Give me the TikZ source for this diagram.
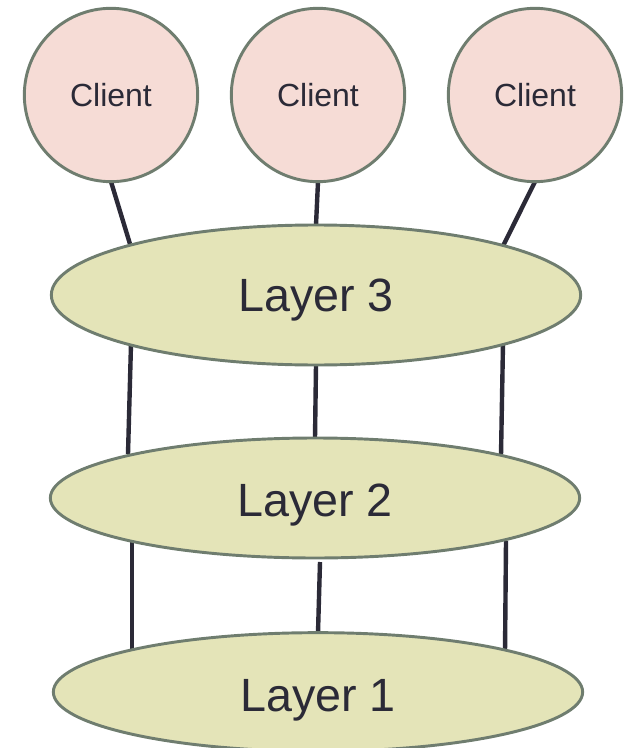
\documentclass[tikz,border=0pt]{standalone}
\usepackage{fontspec}
\setmainfont{Liberation Sans}
\usetikzlibrary{shapes.geometric,calc}
\definecolor{cfill}{HTML}{F6DCD6}
\definecolor{efill}{HTML}{E4E4B8}
\definecolor{bord}{HTML}{6F7D6F}
\definecolor{ink}{HTML}{2B2A37}
\pgfdeclarelayer{bg}
\pgfsetlayers{bg,main}
\tikzset{
  client/.style={circle, draw=bord, line width=2.2pt, fill=cfill, minimum size=130pt, inner sep=0pt, outer sep=0pt, text=ink, font=\fontsize{24}{28}\selectfont},
  layer/.style={ellipse, draw=bord, line width=2.2pt, fill=efill, minimum width=397pt, inner sep=0pt, outer sep=0pt, text depth=0pt, text=ink, font=\fontsize{35}{40}\selectfont},
  conn/.style={draw=ink, line width=3.3pt}
}
\begin{document}
\begin{tikzpicture}[x=0.75pt,y=-0.75pt]
\useasboundingbox (0,0) rectangle (627,748);
\node[client] (C1) at (111,95) {Client};
\node[client] (C2) at (318,95) {Client};
\node[client] (C3) at (535,95) {Client};
\node[layer, minimum height=105pt] (L3) at (316,295) {Layer 3};
\node[layer, minimum height=90pt, text height=28pt] (L2) at (315,498) {Layer 2};
\node[layer, minimum height=89pt, text height=29pt] (L1) at (318,692) {Layer 1};
\begin{pgfonlayer}{bg}
\draw[conn] (C1.south) -- ($(L3.center)+(-186,-51)$);
\draw[conn] (C2.south) -- (L3.north);
\draw[conn] (C3.south) -- ($(L3.center)+(187,-49)$);
\draw[conn] ($(L3.center)+(-185,49)$) -- ($(L2.center)+(-187,-44)$);
\draw[conn] (L3.south) -- (L2.north);
\draw[conn] ($(L3.center)+(187,48)$) -- ($(L2.center)+(186,-43)$);
\draw[conn] ($(L2.center)+(-183,43)$) -- ($(L1.center)+(-186,-41)$);
\draw[conn] ($(L2.south)+(5,4)$) -- (L1.north);
\draw[conn] ($(L2.center)+(191,43)$) -- ($(L1.center)+(187,-40)$);
\end{pgfonlayer}
\end{tikzpicture}
\end{document}
